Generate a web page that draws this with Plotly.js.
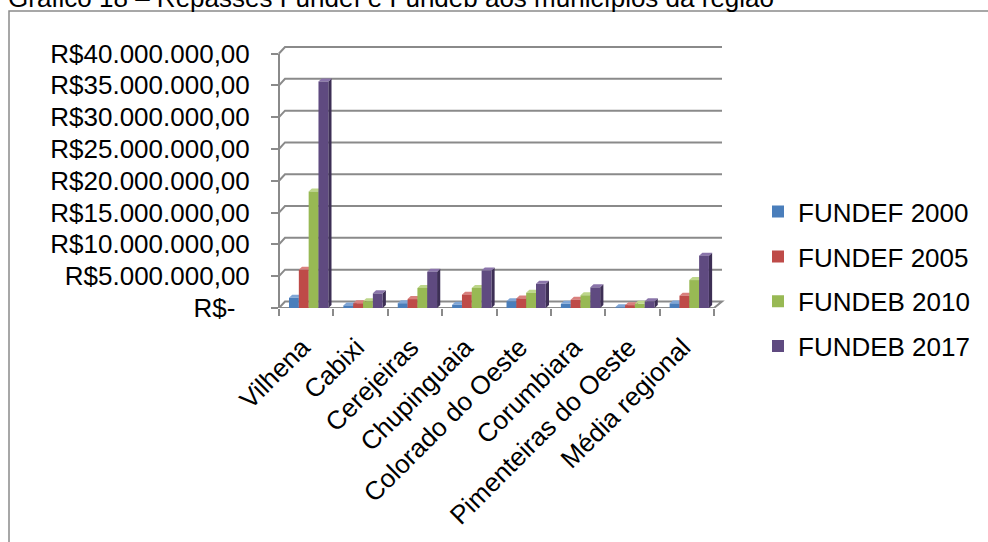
<!DOCTYPE html>
<html>
<head>
<meta charset="utf-8">
<script src="https://cdn.plot.ly/plotly-3.0.1.min.js"></script>
<style>
  html, body { margin: 0; padding: 0; background: #fff; }
  #chart { width: 988px; height: 542px; }
</style>
</head>
<body>
<div id="chart"></div>
<script>
// Municipalities (last entry is the regional average)
const categories = ['Vilhena', 'Cabixi', 'Cerejeiras', 'Chupinguaia',
  'Colorado do Oeste', 'Corumbiara', 'Pimenteiras do Oeste', 'Média regional'];

// Transfers in R$
const fundef2000 = [1600000, 400000, 750000, 500000, 1050000, 650000, 100000, 720000];
const fundef2005 = [6000000, 750000, 1400000, 2100000, 1500000, 1300000, 450000, 1930000];
const fundeb2010 = [18300000, 1050000, 3150000, 3150000, 2400000, 2000000, 650000, 4390000];
const fundeb2017 = [35600000, 2300000, 5700000, 5900000, 3800000, 3250000, 1050000, 8230000];

const seriesNames = ['FUNDEF 2000', 'FUNDEF 2005', 'FUNDEB 2010', 'FUNDEB 2017'];

const yTickVals = [0, 5000000, 10000000, 15000000, 20000000, 25000000, 30000000, 35000000, 40000000];
const yTickText = ['R$-\u00a0\u00a0', 'R$5.000.000,00', 'R$10.000.000,00', 'R$15.000.000,00',
  'R$20.000.000,00', 'R$25.000.000,00', 'R$30.000.000,00', 'R$35.000.000,00', 'R$40.000.000,00'];

const titleText = 'Gráfico 18 – Repasses Fundef e Fundeb aos municípios da região';

// ---- geometry of the plotting box (pixels) ----
const W = 988, H = 542;
const PLOT_L = 279, PLOT_R = 714;          // front x-axis extent
const BASE_Y = 307.7;                      // pixel row of value 0
const PX_PER_UNIT = 253.7 / 40000000;      // pixels per R$
const Y_MAX = 41500000;
const PLOT_TOP = BASE_Y - Y_MAX * PX_PER_UNIT;
const PLOT_W = PLOT_R - PLOT_L, PLOT_H = BASE_Y - PLOT_TOP;

const xp = px => (px - PLOT_L) / PLOT_W;              // pixel -> paper x
const yp = py => (BASE_Y - py) / PLOT_H;              // pixel -> paper y
const X_PER_PX = 8 / PLOT_W;                          // x data units per pixel
const Y_PER_PX = 1 / PX_PER_UNIT;                     // y data units per pixel

// 3D look: back wall offset and bar depth
const WALL_DX = 6, WALL_DY = 6.5, WALL_RIGHT = 722;
const BAR_DX = 3.2 * X_PER_PX, BAR_DY = 3 * Y_PER_PX;

const BAR_W = 0.1807;
const GROUP_START = -0.316;
const LABEL_SHIFT = -4 * X_PER_PX;   // slanted labels sit a little left of the group

const front = ['#4A7EBB', '#BE4B48', '#98B954', '#5F4A80'];
const side  = ['#2F5A8C', '#8C302E', '#6E8A35', '#3D2F55'];
const topC  = ['#80A6D6', '#D9807D', '#BDD68A', '#8A74AA'];
const GRID = '#8a8a8a';

const allSeries = [fundef2000, fundef2005, fundeb2010, fundeb2017];
const xIdx = categories.map((_, i) => i);

const traces = allSeries.map((vals, k) => ({
  type: 'bar',
  name: seriesNames[k],
  x: xIdx,
  y: vals,
  width: BAR_W,
  offset: GROUP_START + k * BAR_W,
  marker: { color: front[k], line: { width: 0 } },
  legendgroup: 'g' + k,
  hoverinfo: 'skip'
}));

const shapes = [];

// outer frame
shapes.push({
  type: 'rect', xref: 'paper', yref: 'paper', layer: 'below',
  x0: xp(9), x1: xp(W + 10), y0: yp(11.5), y1: yp(H + 10),
  line: { color: GRID, width: 1.5 }, fillcolor: 'rgba(0,0,0,0)'
});

// back-wall gridlines with their slanted joins to the front axis
const wdx = WALL_DX / PLOT_W;
const wdy = WALL_DY * Y_PER_PX;
yTickVals.forEach(v => {
  if (v === 0) return;
  shapes.push({
    type: 'path', xref: 'paper', yref: 'y', layer: 'below',
    path: `M0,${v} L${wdx},${v + wdy} L${xp(WALL_RIGHT)},${v + wdy}`,
    line: { color: GRID, width: 2 }
  });
});

// floor outline
shapes.push({
  type: 'path', xref: 'paper', yref: 'y', layer: 'below',
  path: `M0,0 L1,0 L${xp(WALL_RIGHT)},${wdy} L${wdx},${wdy} Z`,
  line: { color: GRID, width: 2 }, fillcolor: 'rgba(0,0,0,0)'
});

// front value axis line
shapes.push({
  type: 'line', xref: 'paper', yref: 'y', layer: 'below',
  x0: 0, x1: 0, y0: 0, y1: 40000000,
  line: { color: GRID, width: 2 }
});

// bar side and top faces (beneath the bar fronts)
allSeries.forEach((vals, k) => {
  vals.forEach((v, i) => {
    const x0 = i + GROUP_START + k * BAR_W;
    const x1 = x0 + BAR_W;
    shapes.push({
      type: 'path', xref: 'x', yref: 'y', layer: 'below',
      path: `M${x1},0 L${x1},${v} L${x1 + BAR_DX},${v + BAR_DY} L${x1 + BAR_DX},${BAR_DY} Z`,
      fillcolor: side[k], line: { width: 0 }
    });
    shapes.push({
      type: 'path', xref: 'x', yref: 'y', layer: 'below',
      path: `M${x0},${v} L${x1},${v} L${x1 + BAR_DX},${v + BAR_DY} L${x0 + BAR_DX},${v + BAR_DY} Z`,
      fillcolor: topC[k], line: { width: 0 }
    });
  });
});

const FONT = 'Liberation Sans, Arial, sans-serif';

const layout = {
  width: W, height: H, autosize: false,
  paper_bgcolor: '#ffffff', plot_bgcolor: 'rgba(0,0,0,0)',
  margin: { l: PLOT_L, r: W - PLOT_R, t: PLOT_TOP, b: H - BASE_Y, pad: 0 },
  font: { family: FONT, size: 26, color: '#000' },
  barmode: 'overlay',
  showlegend: true,
  xaxis: {
    range: [-0.5, 7.5], fixedrange: true,
    tickvals: xIdx.map(i => i + LABEL_SHIFT), ticktext: categories, tickangle: -45,
    ticks: '', showgrid: false, zeroline: false, showline: false,
    ticklabelstandoff: 18,
    tickfont: { family: FONT, size: 26, color: '#000' },
    minor: {
      tickvals: categories.map((_, i) => i - 0.5).concat([categories.length - 0.5]),
      ticks: 'outside', ticklen: 7, tickwidth: 2, tickcolor: GRID, showgrid: false
    }
  },
  yaxis: {
    range: [0, Y_MAX], fixedrange: true,
    tickvals: yTickVals, ticktext: yTickText,
    ticks: 'outside', ticklen: 7, tickwidth: 2, tickcolor: GRID,
    showgrid: false, zeroline: false, showline: false,
    ticklabelstandoff: 16,
    tickfont: { family: FONT, size: 26, color: '#000' }
  },
  legend: {
    x: xp(758), xanchor: 'left', y: yp(279), yanchor: 'middle',
    bgcolor: 'rgba(0,0,0,0)', borderwidth: 0,
    font: { family: FONT, size: 26, color: '#000' },
    traceorder: 'grouped', tracegroupgap: 8, itemclick: false
  },
  shapes: shapes,
  annotations: [{
    text: titleText, showarrow: false,
    xref: 'paper', yref: 'paper', x: xp(6), xanchor: 'left',
    y: yp(-1), yanchor: 'middle',
    font: { family: FONT, size: 26, color: '#000' }
  }]
};

Plotly.newPlot('chart', traces, layout, { staticPlot: true, displayModeBar: false });
</script>
</body>
</html>
